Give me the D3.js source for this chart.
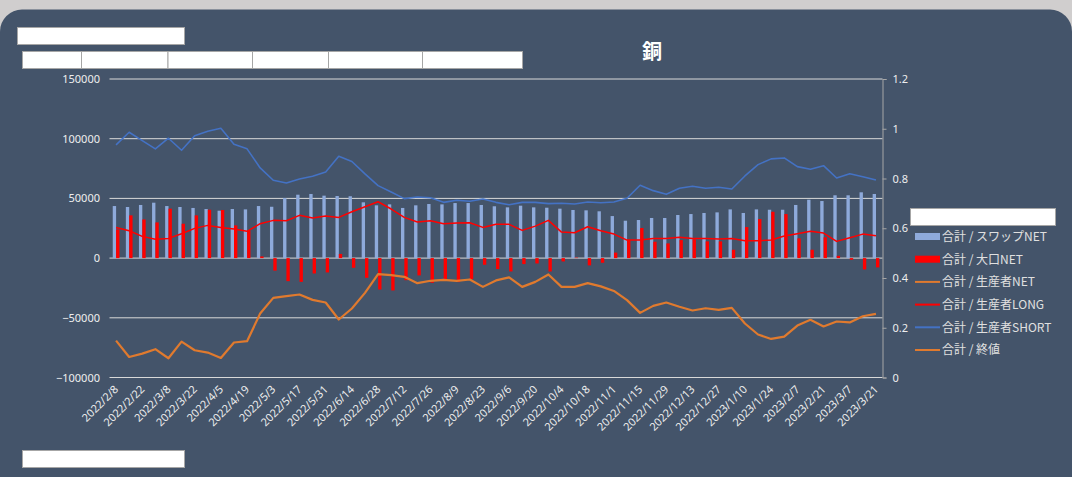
<!DOCTYPE html>
<html>
<head>
<meta charset="utf-8">
<script src="https://cdn.jsdelivr.net/npm/d3@7"></script>
<style>
  html, body { margin: 0; padding: 0; background: #d0cece; }
  svg { display: block; }
</style>
</head>
<body>
<svg id="chart" width="1072" height="477"></svg>
<script>
// Weekly report dates (every Tuesday)
const dates = [
  "2022/2/8","2022/2/15","2022/2/22","2022/3/1","2022/3/8","2022/3/15","2022/3/22","2022/3/29",
  "2022/4/5","2022/4/12","2022/4/19","2022/4/26","2022/5/3","2022/5/10","2022/5/17","2022/5/24",
  "2022/5/31","2022/6/7","2022/6/14","2022/6/21","2022/6/28","2022/7/5","2022/7/12","2022/7/19",
  "2022/7/26","2022/8/2","2022/8/9","2022/8/16","2022/8/23","2022/8/30","2022/9/6","2022/9/13",
  "2022/9/20","2022/9/27","2022/10/4","2022/10/11","2022/10/18","2022/10/25","2022/11/1","2022/11/8",
  "2022/11/15","2022/11/22","2022/11/29","2022/12/6","2022/12/13","2022/12/20","2022/12/27","2023/1/3",
  "2023/1/10","2023/1/17","2023/1/24","2023/1/31","2023/2/7","2023/2/14","2023/2/21","2023/2/28",
  "2023/3/7","2023/3/14","2023/3/21"
];

// 合計 / スワップNET
const swapNet = [
  43600,42800,44500,46400,43600,42800,42000,41100,39700,41100,40800,43600,43000,50300,53100,53700,
  52300,52000,51800,46700,44200,45000,42000,44200,45300,45000,46100,46100,44500,43400,42500,43900,
  42500,42200,41400,40300,40000,39200,35200,31300,31900,33600,33600,36100,36900,37800,38300,40800,
  37800,40800,40500,40500,44500,48900,47800,52600,52600,55100,53700
];

// 合計 / 大口NET
const largeNet = [
  24000,35800,32400,29900,41400,28800,35800,40500,40300,27400,23200,1400,-10500,-19300,-19900,-12900,
  -12000,3500,-8100,-16500,-26300,-27100,-18500,-14500,-20700,-18500,-20100,-17600,-5600,-9200,-11200,-5000,
  -4500,-11200,-2800,400,-6100,-3900,4600,15100,25200,13700,12300,15100,15700,14000,14000,7000,
  26000,32700,38800,36900,16500,7000,17400,1900,-1400,-9500,-7800
];

// 合計 / 生産者NET
const producerNet = [
  -69100,-82800,-80000,-76300,-83900,-69900,-77200,-79100,-83600,-70700,-69600,-46400,-33300,-31900,-30500,-35000,
  -37200,-51400,-42200,-29100,-13400,-14300,-15700,-21000,-19000,-18200,-19000,-17900,-24100,-18700,-16200,-24100,
  -19900,-13700,-24100,-24100,-21000,-23700,-27500,-35200,-45900,-40000,-37200,-40800,-43900,-42000,-43400,-41700,
  -54800,-64000,-67700,-65700,-56500,-51700,-57300,-53100,-53900,-48700,-46700
];

// 合計 / 生産者LONG
const producerLong = [
  25700,22900,18200,15700,16500,20400,24900,27400,25700,24300,22400,28800,31600,31300,35800,33600,
  35200,34100,38800,43000,47200,41100,34100,30200,31300,28800,29400,29600,25700,28300,28300,23200,
  26800,31600,21800,21200,26300,22900,20100,15100,15100,16500,16500,17400,16500,16500,15900,16500,
  14500,14500,15100,18500,20400,22400,21000,14000,17000,20100,18700
];

// 合計 / 生産者SHORT
const producerShort = [
  94800,105400,98400,91500,100400,90300,102400,106300,108800,95400,91500,75500,65200,62900,66300,68500,
  72200,85300,80900,70500,60700,55400,49800,51200,50600,46700,48400,47600,49500,46700,44700,46700,
  46700,45600,45900,45300,47000,46400,47000,50100,61000,56500,53400,58500,60200,58500,59300,57900,
  68800,78300,83100,83900,76600,74400,77400,67100,70700,68200,65400
];

const leftTicks = [-100000, -50000, 0, 50000, 100000, 150000];
const rightTicks = [0, 0.2, 0.4, 0.6, 0.8, 1, 1.2];

const legendItems = [
  { label: "合計 / スワップNET", kind: "bar", color: "#8eaadb" },
  { label: "合計 / 大口NET", kind: "bar", color: "#ff0000" },
  { label: "合計 / 生産者NET", kind: "line", color: "#e07a2e" },
  { label: "合計 / 生産者LONG", kind: "line", color: "#ff0000" },
  { label: "合計 / 生産者SHORT", kind: "line", color: "#4472c4" },
  { label: "合計 / 終値", kind: "line", color: "#e07a2e" }
];

const svg = d3.select("#chart");
const W = 1072, H = 477;
const txt = "#eeeeee";
const font = "'Noto Sans', 'Noto Sans CJK JP', sans-serif";

// panel
svg.append("rect").attr("x", 0).attr("y", 0).attr("width", W).attr("height", H).attr("fill", "#d0cece");
svg.append("rect").attr("x", 0).attr("y", 9.5).attr("width", W).attr("height", H + 40)
  .attr("rx", 22).attr("ry", 22).attr("fill", "#44546a");

// filter-field placeholders
const box = (x, y, w, h) => svg.append("rect").attr("x", x).attr("y", y).attr("width", w).attr("height", h)
  .attr("fill", "#ffffff").attr("stroke", "#a6a6a6").attr("stroke-width", 1);
box(17.5, 27.5, 167, 17);
const rowEdges = [22.5, 81.5, 168, 252.5, 328.5, 422.5, 522.5];
for (let i = 0; i < rowEdges.length - 1; i++) box(rowEdges[i], 51.5, rowEdges[i + 1] - rowEdges[i], 17);
box(22.5, 450.5, 162, 17);
box(910.5, 208.5, 145, 17);

// title
svg.append("text").attr("x", 652).attr("y", 59).attr("text-anchor", "middle")
  .attr("fill", "#ffffff").attr("font-family", "'Noto Sans CJK JP', sans-serif")
  .attr("font-weight", "bold").attr("font-size", 20).text("銅");

// scales
const x = d3.scaleBand().domain(dates).range([109.5, 882.5]);
const xSub = d3.scaleBand().domain(["swap", "large"]).range([-3.3, 3.4]);
const yL = d3.scaleLinear().domain([-100000, 150000]).range([377.5, 79]);
const yR = d3.scaleLinear().domain([0, 1.2]).range([377.5, 79]);
const cx = d => x(d) + x.bandwidth() / 2;

// gridlines
svg.append("g").selectAll("line").data(leftTicks).join("line")
  .attr("x1", 109.5).attr("x2", 882.5)
  .attr("y1", d => yL(d)).attr("y2", d => yL(d))
  .attr("stroke", "#d9d9d9").attr("stroke-width", 1);

// left axis labels
const gL = svg.append("g").attr("transform", "translate(100,0)")
  .call(d3.axisLeft(yL).tickValues(leftTicks).tickSize(0).tickPadding(0).tickFormat(d3.format("d")));
gL.select(".domain").remove();
gL.selectAll("text").attr("fill", txt).attr("font-size", 11).attr("font-family", font);

// right axis
const gR = svg.append("g").attr("transform", "translate(882.5,0)")
  .call(d3.axisRight(yR).tickValues(rightTicks).tickSize(4).tickPadding(6).tickFormat(d => d3.format("")(d)));
gR.select(".domain").attr("stroke", "#a6a6a6");
gR.selectAll(".tick line").attr("stroke", "#a6a6a6");
gR.selectAll("text").attr("fill", txt).attr("font-size", 11).attr("font-family", font);

// bars
const bars = svg.append("g");
bars.selectAll("rect.swap").data(dates).join("rect").attr("class", "swap")
  .attr("x", d => cx(d) + xSub("swap"))
  .attr("width", xSub.bandwidth())
  .attr("y", (d, i) => yL(Math.max(0, swapNet[i])))
  .attr("height", (d, i) => Math.abs(yL(swapNet[i]) - yL(0)))
  .attr("fill", "#8eaadb");
bars.selectAll("rect.large").data(dates).join("rect").attr("class", "large")
  .attr("x", d => cx(d) + xSub("large"))
  .attr("width", xSub.bandwidth())
  .attr("y", (d, i) => yL(Math.max(0, largeNet[i])))
  .attr("height", (d, i) => Math.abs(yL(largeNet[i]) - yL(0)))
  .attr("fill", "#ff0000");

// lines
const lineOf = vals => d3.line().x((d, i) => cx(dates[i])).y(d => yL(d))(vals);
svg.append("path").attr("d", lineOf(producerNet)).attr("fill", "none")
  .attr("stroke", "#e07a2e").attr("stroke-width", 2.2).attr("stroke-linejoin", "round");
svg.append("path").attr("d", lineOf(producerLong)).attr("fill", "none")
  .attr("stroke", "#ff0000").attr("stroke-width", 1.5).attr("stroke-linejoin", "round");
svg.append("path").attr("d", lineOf(producerShort)).attr("fill", "none")
  .attr("stroke", "#4472c4").attr("stroke-width", 1.6).attr("stroke-linejoin", "round");

// category labels (every other week)
const gX = svg.append("g");
gX.selectAll("text").data(dates.filter((d, i) => i % 2 === 0)).join("text")
  .attr("transform", d => `translate(${cx(d) + 3},390) rotate(-45)`)
  .attr("text-anchor", "end")
  .attr("fill", txt).attr("font-size", 11).attr("font-family", font)
  .text(d => d);

// legend
const leg = svg.append("g");
legendItems.forEach((item, i) => {
  const yc = 236.5 + i * 22.7;
  if (item.kind === "bar") {
    leg.append("rect").attr("x", 915).attr("y", yc - 3.5).attr("width", 25).attr("height", 7).attr("fill", item.color);
  } else {
    leg.append("line").attr("x1", 915).attr("x2", 940).attr("y1", yc).attr("y2", yc)
      .attr("stroke", item.color).attr("stroke-width", 2);
  }
  leg.append("text").attr("x", 942).attr("y", yc).attr("dy", "0.36em")
    .attr("fill", "#e0e0e0").attr("font-size", 12).attr("font-family", "'Noto Sans CJK JP', sans-serif")
    .text(item.label);
});
</script>
</body>
</html>
